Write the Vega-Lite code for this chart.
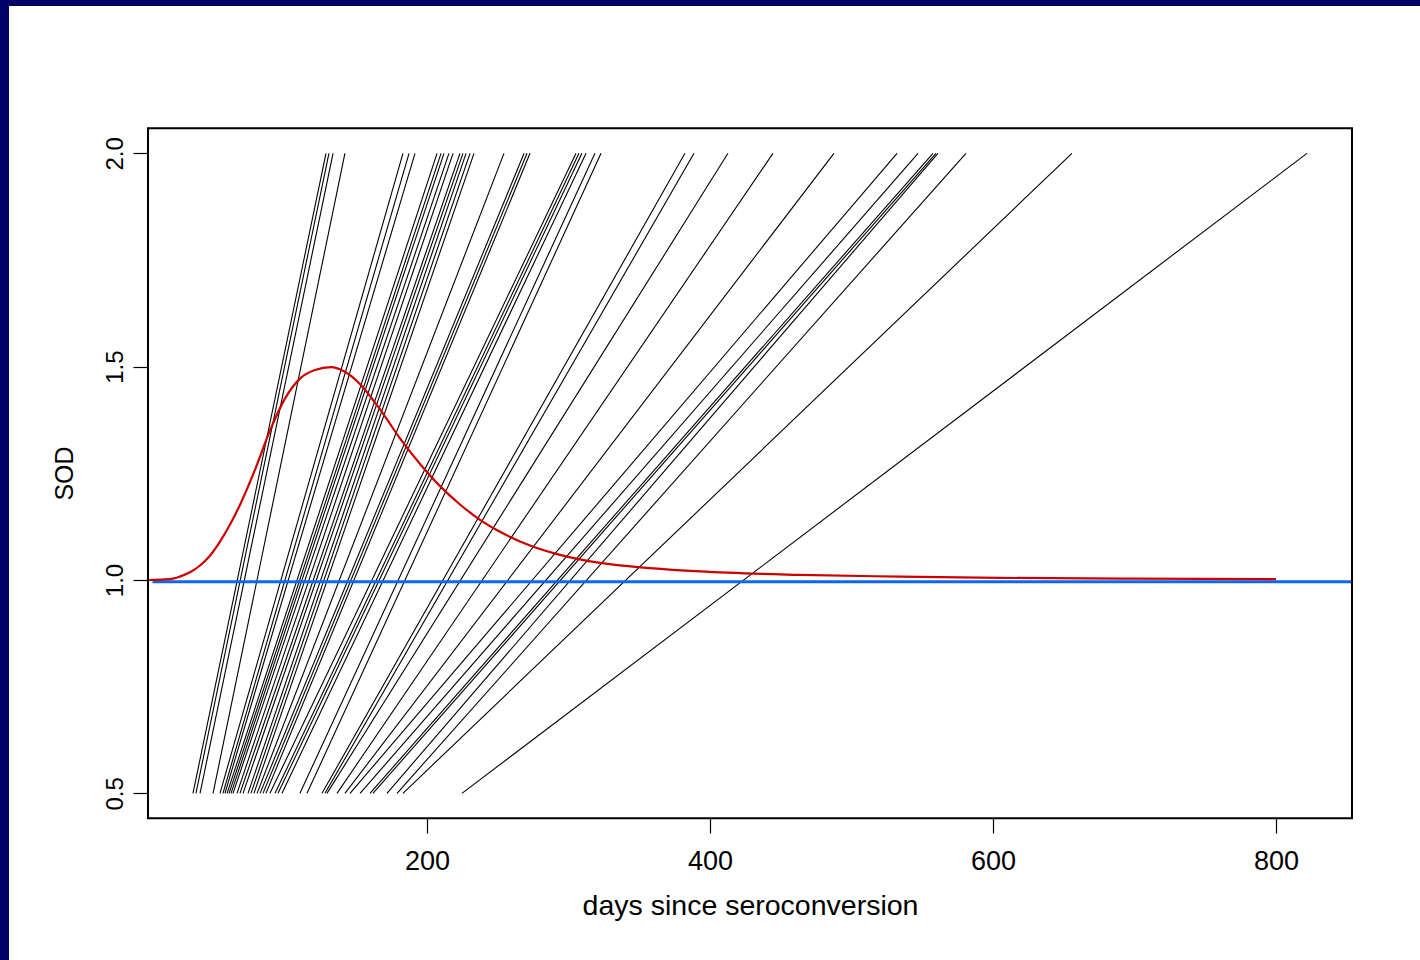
{
  "$schema": "https://vega.github.io/schema/vega-lite/v6.json",
  "width": 1411,
  "height": 954,
  "autosize": {"type": "none"},
  "padding": {"left": 9, "top": 6, "right": 0, "bottom": 0},
  "background": "#000066",
  "config": {
    "view": {"stroke": null, "fill": "white"},
    "font": "Liberation Sans",
    "axis": {"grid": false, "domain": false, "tickColor": "black", "labelColor": "black", "titleColor": "black", "titleFontWeight": "normal"}
  },
  "datasets": {
    "seg": [
      {"id": 1, "x": 34.6, "y": 0.5}, {"id": 1, "x": 128.6, "y": 2.0},
      {"id": 2, "x": 36.7, "y": 0.5}, {"id": 2, "x": 130.7, "y": 2.0},
      {"id": 3, "x": 39.6, "y": 0.5}, {"id": 3, "x": 133.6, "y": 2.0},
      {"id": 4, "x": 48.8, "y": 0.5}, {"id": 4, "x": 142.0, "y": 2.0},
      {"id": 5, "x": 53.7, "y": 0.5}, {"id": 5, "x": 183.0, "y": 2.0},
      {"id": 6, "x": 55.8, "y": 0.5}, {"id": 6, "x": 187.3, "y": 2.0},
      {"id": 7, "x": 57.2, "y": 0.5}, {"id": 7, "x": 191.5, "y": 2.0},
      {"id": 8, "x": 58.7, "y": 0.5}, {"id": 8, "x": 207.1, "y": 2.0},
      {"id": 9, "x": 60.1, "y": 0.5}, {"id": 9, "x": 209.9, "y": 2.0},
      {"id": 10, "x": 61.5, "y": 0.5}, {"id": 10, "x": 212.0, "y": 2.0},
      {"id": 11, "x": 62.9, "y": 0.5}, {"id": 11, "x": 215.5, "y": 2.0},
      {"id": 12, "x": 65.7, "y": 0.5}, {"id": 12, "x": 218.4, "y": 2.0},
      {"id": 13, "x": 67.8, "y": 0.5}, {"id": 13, "x": 223.3, "y": 2.0},
      {"id": 14, "x": 70.0, "y": 0.5}, {"id": 14, "x": 225.4, "y": 2.0},
      {"id": 15, "x": 73.5, "y": 0.5}, {"id": 15, "x": 227.6, "y": 2.0},
      {"id": 16, "x": 75.6, "y": 0.5}, {"id": 16, "x": 230.4, "y": 2.0},
      {"id": 17, "x": 77.7, "y": 0.5}, {"id": 17, "x": 233.2, "y": 2.0},
      {"id": 18, "x": 79.9, "y": 0.5}, {"id": 18, "x": 254.4, "y": 2.0},
      {"id": 19, "x": 82.0, "y": 0.5}, {"id": 19, "x": 268.6, "y": 2.0},
      {"id": 20, "x": 84.1, "y": 0.5}, {"id": 20, "x": 270.7, "y": 2.0},
      {"id": 21, "x": 86.2, "y": 0.5}, {"id": 21, "x": 272.8, "y": 2.0},
      {"id": 22, "x": 89.0, "y": 0.5}, {"id": 22, "x": 305.3, "y": 2.0},
      {"id": 23, "x": 92.6, "y": 0.5}, {"id": 23, "x": 307.4, "y": 2.0},
      {"id": 24, "x": 94.7, "y": 0.5}, {"id": 24, "x": 309.5, "y": 2.0},
      {"id": 25, "x": 97.5, "y": 0.5}, {"id": 25, "x": 312.4, "y": 2.0},
      {"id": 26, "x": 110.2, "y": 0.5}, {"id": 26, "x": 318.7, "y": 2.0},
      {"id": 27, "x": 115.2, "y": 0.5}, {"id": 27, "x": 323.0, "y": 2.0},
      {"id": 28, "x": 125.8, "y": 0.5}, {"id": 28, "x": 382.3, "y": 2.0},
      {"id": 29, "x": 127.9, "y": 0.5}, {"id": 29, "x": 388.7, "y": 2.0},
      {"id": 30, "x": 129.3, "y": 0.5}, {"id": 30, "x": 412.7, "y": 2.0},
      {"id": 31, "x": 136.4, "y": 0.5}, {"id": 31, "x": 444.5, "y": 2.0},
      {"id": 32, "x": 142.0, "y": 0.5}, {"id": 32, "x": 487.6, "y": 2.0},
      {"id": 33, "x": 145.6, "y": 0.5}, {"id": 33, "x": 532.2, "y": 2.0},
      {"id": 34, "x": 152.7, "y": 0.5}, {"id": 34, "x": 547.0, "y": 2.0},
      {"id": 35, "x": 159.7, "y": 0.5}, {"id": 35, "x": 557.6, "y": 2.0},
      {"id": 36, "x": 161.8, "y": 0.5}, {"id": 36, "x": 559.7, "y": 2.0},
      {"id": 37, "x": 171.7, "y": 0.5}, {"id": 37, "x": 561.1, "y": 2.0},
      {"id": 38, "x": 178.8, "y": 0.5}, {"id": 38, "x": 580.9, "y": 2.0},
      {"id": 39, "x": 183.0, "y": 0.5}, {"id": 39, "x": 655.8, "y": 2.0},
      {"id": 40, "x": 224.7, "y": 0.5}, {"id": 40, "x": 821.9, "y": 2.0}
    ],
    "curve": [
      {"x": 2.8, "y": 1.0}, {"x": 18.4, "y": 1.002}, {"x": 25.4, "y": 1.008},
      {"x": 32.5, "y": 1.018}, {"x": 39.6, "y": 1.034}, {"x": 46.6, "y": 1.057},
      {"x": 53.7, "y": 1.09}, {"x": 60.8, "y": 1.13}, {"x": 67.8, "y": 1.176}, {"x": 78.4, "y": 1.258},
      {"x": 89.0, "y": 1.35}, {"x": 99.6, "y": 1.425}, {"x": 110.2, "y": 1.472},
      {"x": 120.8, "y": 1.492}, {"x": 132.2, "y": 1.499}, {"x": 142.0, "y": 1.488},
      {"x": 152.7, "y": 1.459}, {"x": 166.8, "y": 1.4}, {"x": 180.9, "y": 1.332},
      {"x": 195.1, "y": 1.272}, {"x": 209.2, "y": 1.22}, {"x": 223.3, "y": 1.177},
      {"x": 237.5, "y": 1.141}, {"x": 251.6, "y": 1.113}, {"x": 272.8, "y": 1.081},
      {"x": 294.0, "y": 1.059}, {"x": 322.3, "y": 1.04}, {"x": 357.6, "y": 1.028},
      {"x": 392.9, "y": 1.02}, {"x": 463.6, "y": 1.012}, {"x": 534.3, "y": 1.008},
      {"x": 604.9, "y": 1.005}, {"x": 700.0, "y": 1.003}, {"x": 800.0, "y": 1.002}
    ],
    "hline": [
      {"x": 6.0, "y": 0.996}, {"x": 853.7, "y": 0.996}
    ]
  },
  "layer": [
    {
      "data": {"name": "seg"},
      "mark": {"type": "line", "color": "black", "strokeWidth": 1.1},
      "encoding": {
        "x": {
          "field": "x", "type": "quantitative", "title": "days since seroconversion",
          "scale": {"domain": [-95.41, 901.77], "nice": false, "zero": false},
          "axis": {
            "orient": "bottom", "offset": -142, "values": [200, 400, 600, 800],
            "tickSize": 15, "tickWidth": 1.2, "labelFontSize": 27, "labelPadding": 36,
            "labelBaseline": "alphabetic", "labelAlign": "center",
            "titleFontSize": 28.5,
            "titleX": 741, "titleY": 96, "titleBaseline": "alphabetic", "titleAlign": "center"
          }
        },
        "y": {
          "field": "y", "type": "quantitative", "title": "SOD",
          "scale": {"domain": [0.1094, 2.3453], "nice": false, "zero": false},
          "axis": {
            "orient": "left", "offset": -139, "values": [0.5, 1.0, 1.5, 2.0], "format": ".1f",
            "tickSize": 15, "tickWidth": 1.2, "labelFontSize": 24, "labelPadding": 11,
            "labelAngle": -90, "labelAlign": "center", "labelBaseline": "alphabetic",
            "titleFontSize": 25, "titleAngle": -90,
            "titleX": -76, "titleY": 467, "titleBaseline": "alphabetic", "titleAlign": "center"
          }
        },
        "detail": {"field": "id", "type": "nominal"}
      }
    },
    {
      "data": {"name": "hline"},
      "mark": {"type": "line", "color": "#0a68f0", "strokeWidth": 3},
      "encoding": {
        "x": {"field": "x", "type": "quantitative", "title": "days since seroconversion"},
        "y": {"field": "y", "type": "quantitative", "title": "SOD"}
      }
    },
    {
      "data": {"name": "curve"},
      "mark": {"type": "line", "color": "#cc0000", "strokeWidth": 2.2, "interpolate": "monotone"},
      "encoding": {
        "x": {"field": "x", "type": "quantitative", "title": "days since seroconversion"},
        "y": {"field": "y", "type": "quantitative", "title": "SOD"}
      }
    },
    {
      "data": {"values": [{"frame": 1}]},
      "mark": {"type": "rect", "filled": false, "color": "black", "strokeWidth": 2},
      "encoding": {
        "x": {"datum": 2.83, "type": "quantitative"},
        "x2": {"datum": 853.7},
        "y": {"datum": 0.4414, "type": "quantitative"},
        "y2": {"datum": 2.0586}
      }
    }
  ]
}
